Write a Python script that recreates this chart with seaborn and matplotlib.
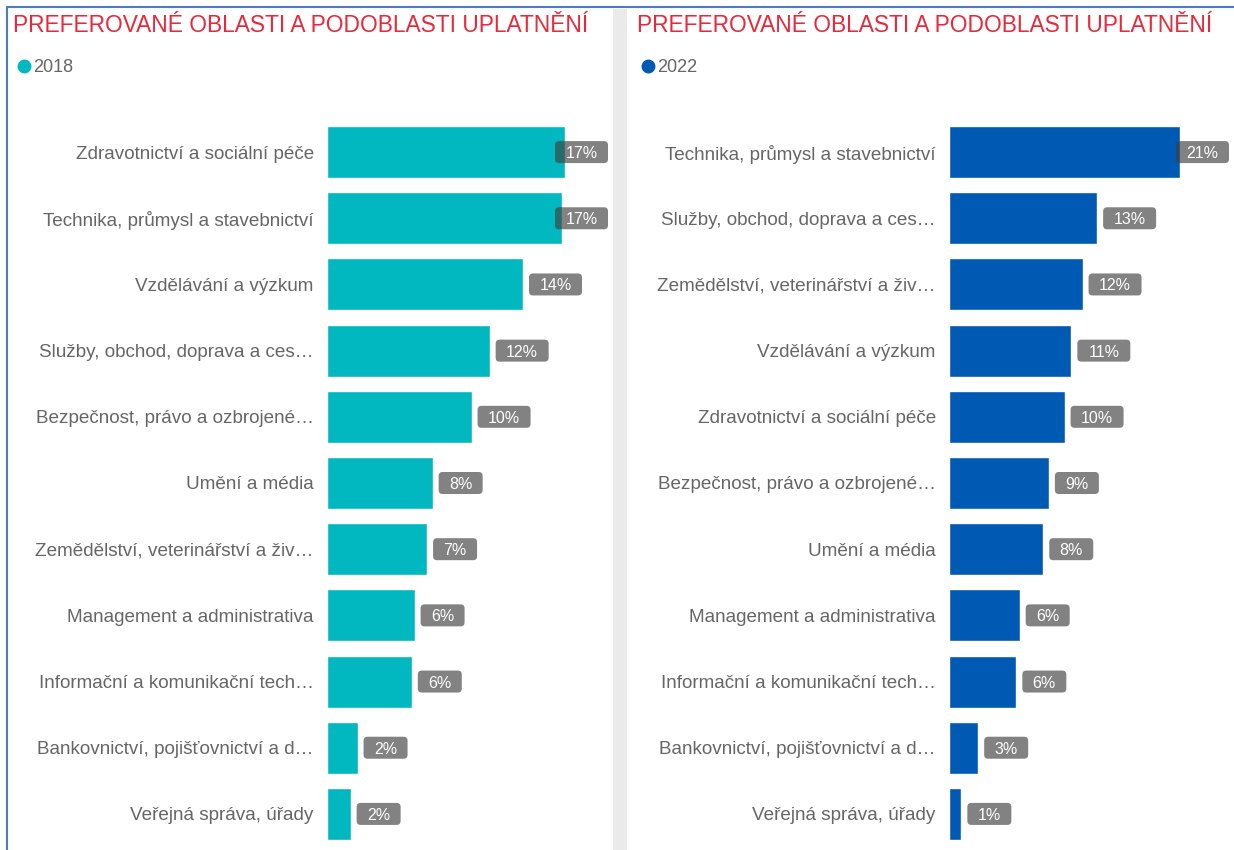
import matplotlib
matplotlib.use('Agg')
import matplotlib.pyplot as plt
import pandas as pd
import seaborn as sns
from matplotlib.patches import FancyBboxPatch, Rectangle
from matplotlib.lines import Line2D
from matplotlib.transforms import IdentityTransform

sns.set_style('white')
plt.rcParams['font.family'] = ['Liberation Sans', 'DejaVu Sans']

title = 'PREFEROVANÉ OBLASTI A PODOBLASTI UPLATNĚNÍ'

cats_2018 = ['Zdravotnictví a sociální péče', 'Technika, průmysl a stavebnictví',
             'Vzdělávání a výzkum', 'Služby, obchod, doprava a ces…',
             'Bezpečnost, právo a ozbrojené…', 'Umění a média',
             'Zemědělství, veterinářství a živ…', 'Management a administrativa',
             'Informační a komunikační tech…', 'Bankovnictví, pojišťovnictví a d…',
             'Veřejná správa, úřady']
vals_2018 = [17.1, 16.9, 14.1, 11.7, 10.4, 7.6, 7.2, 6.3, 6.1, 2.2, 1.7]

cats_2022 = ['Technika, průmysl a stavebnictví', 'Služby, obchod, doprava a ces…',
             'Zemědělství, veterinářství a živ…', 'Vzdělávání a výzkum',
             'Zdravotnictví a sociální péče', 'Bezpečnost, právo a ozbrojené…',
             'Umění a média', 'Management a administrativa',
             'Informační a komunikační tech…', 'Bankovnictví, pojišťovnictví a d…',
             'Veřejná správa, úřady']
vals_2022 = [20.6, 13.2, 11.9, 10.9, 10.3, 8.9, 8.4, 6.3, 6.0, 2.6, 1.1]

W, H = 1234, 850
fig = plt.figure(figsize=(W / 100, H / 100), dpi=100)

# frame and separator
fig.add_artist(Line2D([7 / W, 1], [1 - 7 / H] * 2, color='#4A7DC8', lw=1.5))
fig.add_artist(Line2D([7 / W] * 2, [0, 1 - 7 / H], color='#4A7DC8', lw=1.5))
fig.add_artist(Rectangle((613 / W, 0), 14 / W, 1 - 9 / H, color='#EAEAEA', lw=0))

panels = [
    (cats_2018, vals_2018, '2018', '#01B8C0', 327, 610, 20.36, 13),
    (cats_2022, vals_2022, '2022', '#0059B3', 949, 1231, 25.13, 637),
]

for cats, vals, year, color, x0, x1, xmax, tx in panels:
    ax = fig.add_axes([x0 / W, 3 / H, (x1 - x0) / W, 728 / H])
    df = pd.DataFrame({'oblast': cats, 'podil': vals})
    sns.barplot(data=df, x='podil', y='oblast', orient='h', color=color,
                saturation=1, width=0.787, errorbar=None, ax=ax)
    ax.set_xlim(0, xmax)
    ax.set_ylim(len(cats) - 0.5, -0.5)
    ax.set_xlabel('')
    ax.set_ylabel('')
    ax.set_xticks([])
    sns.despine(ax=ax, left=True, bottom=True)
    ax.tick_params(axis='y', length=0, pad=9.5, labelsize=13.6, labelcolor='#666666')

    # data labels
    for i, v in enumerate(vals):
        lbl = f'{round(v)}%'
        xe, yc = ax.transData.transform((v, i))
        w = 53 if len(lbl) == 3 else 44
        h = 22
        left = xe + 6
        limit = ax.bbox.x1 - 2
        if left + w > limit:
            left = limit - w
        box = FancyBboxPatch((left, yc - h / 2), w, h,
                             boxstyle='round,pad=0,rounding_size=4',
                             transform=IdentityTransform(), fc='#404040',
                             alpha=0.65, ec='none')
        fig.add_artist(box)
        fig.text(left + w / 2, yc, lbl, transform=IdentityTransform(),
                 ha='center', va='center_baseline', color='white', fontsize=11.5)

    fig.text(tx / W, 1 - 32 / H, title, color='#E8283C', fontsize=16.4, va='baseline')
    fig.legend(handles=[Line2D([0], [0], marker='o', ls='', color=color, markersize=9)],
               labels=[year], loc='center left', bbox_to_anchor=((tx + 2) / W, 1 - 68 / H),
               frameon=False, handletextpad=0.0, handlelength=1.0, fontsize=13,
               labelcolor='#666666', borderpad=0, borderaxespad=0)

fig.savefig('out.png', dpi=100)
